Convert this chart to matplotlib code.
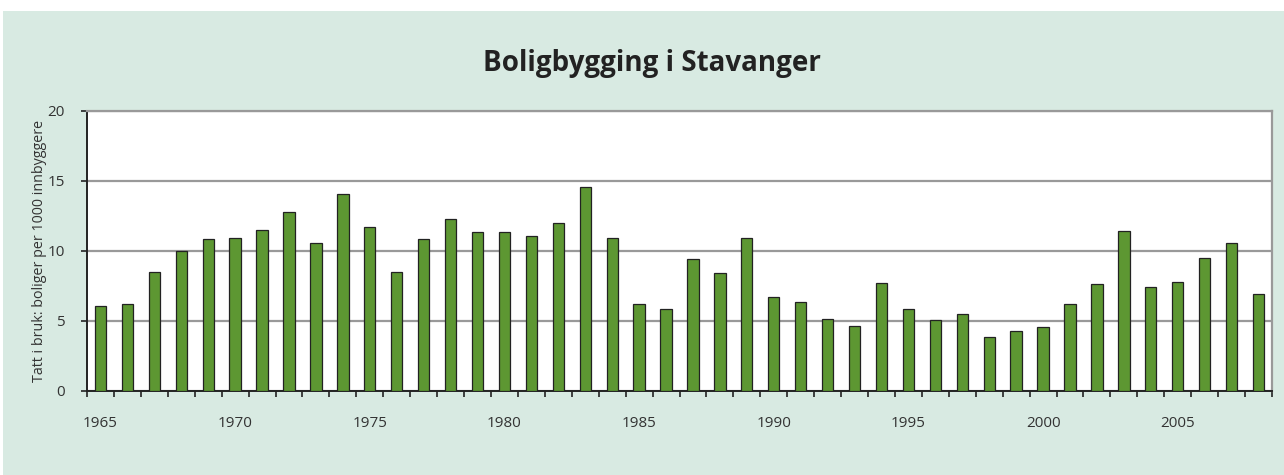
import numpy as np
import matplotlib.pyplot as plt
from matplotlib.patches import Rectangle

plt.rcParams['font.family'] = ['Open Sans', 'DejaVu Sans']

years = list(range(1965, 2009))
# boliger tatt i bruk per 1000 innbyggere
values = [6.1, 6.2, 8.5, 10.0, 10.85, 10.9, 11.5, 12.8, 10.6, 14.1,
          11.7, 8.5, 10.85, 12.3, 11.35, 11.35, 11.05, 12.0, 14.6, 10.95,
          6.2, 5.85, 9.45, 8.4, 10.95, 6.7, 6.35, 5.15, 4.65, 7.7,
          5.85, 5.05, 5.5, 3.85, 4.3, 4.6, 6.2, 7.65, 11.4, 7.4,
          7.8, 9.5, 10.55, 6.95]
label_years = [1965, 1970, 1975, 1980, 1985, 1990, 1995, 2000, 2005]

bg = '#d8eae2'
green = '#5d9732'

fig = plt.figure(figsize=(12.84, 4.75), dpi=100)
fig.patch.set_facecolor('white')
fig.add_artist(Rectangle((3 / 1284, 0), 1, 1 - 11 / 475,
                         transform=fig.transFigure, facecolor=bg,
                         edgecolor='none', zorder=-5))

ax = fig.add_axes([87 / 1284, 1 - 391 / 475, (1272 - 87) / 1284, 280 / 475])
ax.set_facecolor('white')

x = np.arange(len(years))
ax.bar(x, values, width=0.42, color=green, edgecolor='#222222',
       linewidth=0.9, zorder=3)

ax.set_xlim(-0.5, len(years) - 0.5)
ax.set_ylim(0, 20)
ax.set_yticks([0, 5, 10, 15, 20])
ax.yaxis.grid(True, color='#999999', linewidth=1.6, zorder=1)
ax.set_axisbelow(True)

ax.set_xticks([years.index(y) for y in label_years])
ax.set_xticklabels([str(y) for y in label_years])
ax.set_xticks(np.arange(len(years) + 1) - 0.5, minor=True)
ax.tick_params(axis='x', which='major', length=0, pad=18,
               labelsize=11, labelcolor='#333333')
ax.tick_params(axis='x', which='minor', length=4, width=1.2,
               direction='out', color='#222222')
ax.tick_params(axis='y', length=4, width=1.2, direction='out',
               color='#222222', pad=12, labelsize=11, labelcolor='#333333')

for side in ['left', 'bottom']:
    ax.spines[side].set_color('#222222')
    ax.spines[side].set_linewidth(1.4)
for side in ['top', 'right']:
    ax.spines[side].set_color('#999999')
    ax.spines[side].set_linewidth(1.6)

ax.set_ylabel('Tatt i bruk: boliger per 1000 innbyggere', fontsize=10.3,
              color='#333333', labelpad=0)

fig.text(652 / 1284, 1 - 64 / 475, 'Boligbygging i Stavanger',
         ha='center', va='center', fontsize=20, fontweight='bold',
         color='#222222')

fig.savefig('out.png', dpi=100, facecolor=fig.get_facecolor())
